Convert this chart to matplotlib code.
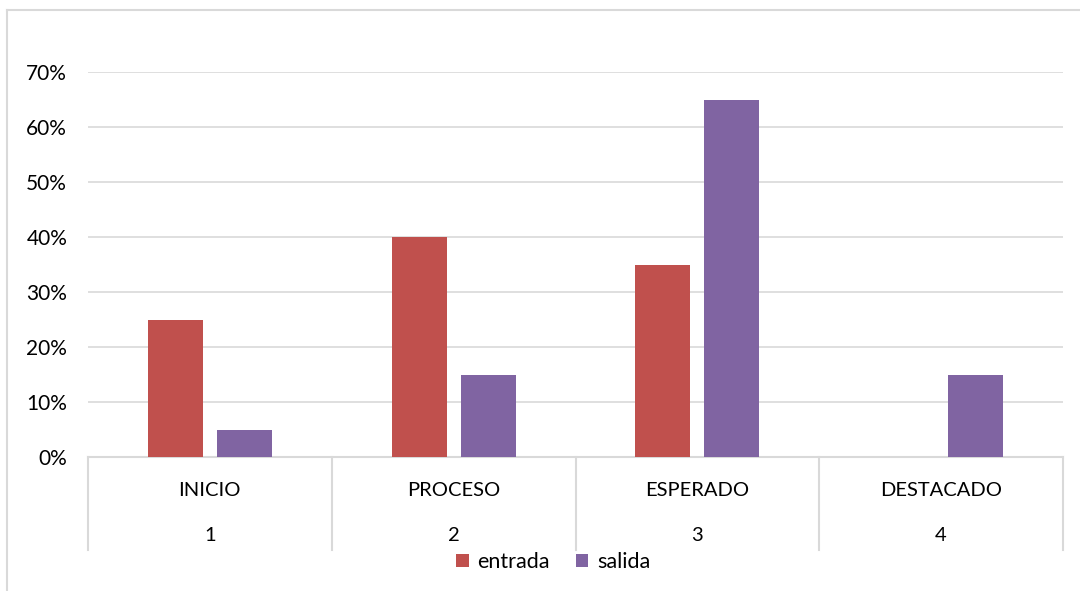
import numpy as np
import matplotlib.pyplot as plt
from matplotlib.lines import Line2D
from matplotlib.ticker import PercentFormatter

plt.rcParams['font.family'] = ['Lato', 'DejaVu Sans']

categories = ['INICIO', 'PROCESO', 'ESPERADO', 'DESTACADO']
cat_numbers = ['1', '2', '3', '4']
entrada = [0.25, 0.40, 0.35, 0.0]
salida = [0.05, 0.15, 0.65, 0.15]
yticks = [0, 0.1, 0.2, 0.3, 0.4, 0.5, 0.6, 0.7]

red = '#C0504D'
purple = '#8064A2'
grid = '#D9D9D9'

fig = plt.figure(figsize=(10.8, 5.91), dpi=100)
ax = fig.add_axes([88/1080, 1 - 457/591, (1063-88)/1080, (457-72)/591])

x = np.arange(len(categories))
w = 0.226
off = 0.1415
ax.bar(x - off, entrada, w, color=red, label='entrada', zorder=3)
ax.bar(x + off, salida, w, color=purple, label='salida', zorder=3)

ax.set_xlim(-0.5, len(categories) - 0.5)
ax.set_ylim(0, 0.7)
ax.set_yticks(yticks)
ax.yaxis.set_major_formatter(PercentFormatter(1.0, decimals=0))
ax.tick_params(axis='y', length=0, pad=15, labelsize=15, labelcolor='#000000')
ax.set_xticks([])
ax.grid(axis='y', color=grid, linewidth=1.2, zorder=0)
for s in ['top', 'right', 'left']:
    ax.spines[s].set_visible(False)
ax.spines['bottom'].set_color(grid)
ax.spines['bottom'].set_linewidth(1.5)

# two-level category axis
trans = ax.get_xaxis_transform()
depth = (550 - 457) / 385
for b in np.arange(len(categories) + 1) - 0.5:
    ax.plot([b, b], [0, -depth], transform=trans, color=grid, lw=1.5, clip_on=False)
for i, (c, n) in enumerate(zip(categories, cat_numbers)):
    ax.text(i, -0.088, c, transform=trans, ha='center', va='center', fontsize=14.5)
    ax.text(i, -0.205, n, transform=trans, ha='center', va='center', fontsize=14.5)

ax.legend(loc='center', bbox_to_anchor=(553/1080, 1 - 562/591), bbox_transform=fig.transFigure,
          ncol=2, frameon=False, fontsize=15.5, handlelength=0.6, handleheight=0.6,
          handletextpad=0.4, columnspacing=1.2, borderpad=0)

# chart frame (only top and left edges visible)
fig.add_artist(Line2D([7/1080, 1], [1 - 10/591, 1 - 10/591], transform=fig.transFigure, color=grid, lw=1.5))
fig.add_artist(Line2D([7/1080, 7/1080], [0, 1 - 10/591], transform=fig.transFigure, color=grid, lw=1.5))

fig.savefig('out.png', dpi=100)
